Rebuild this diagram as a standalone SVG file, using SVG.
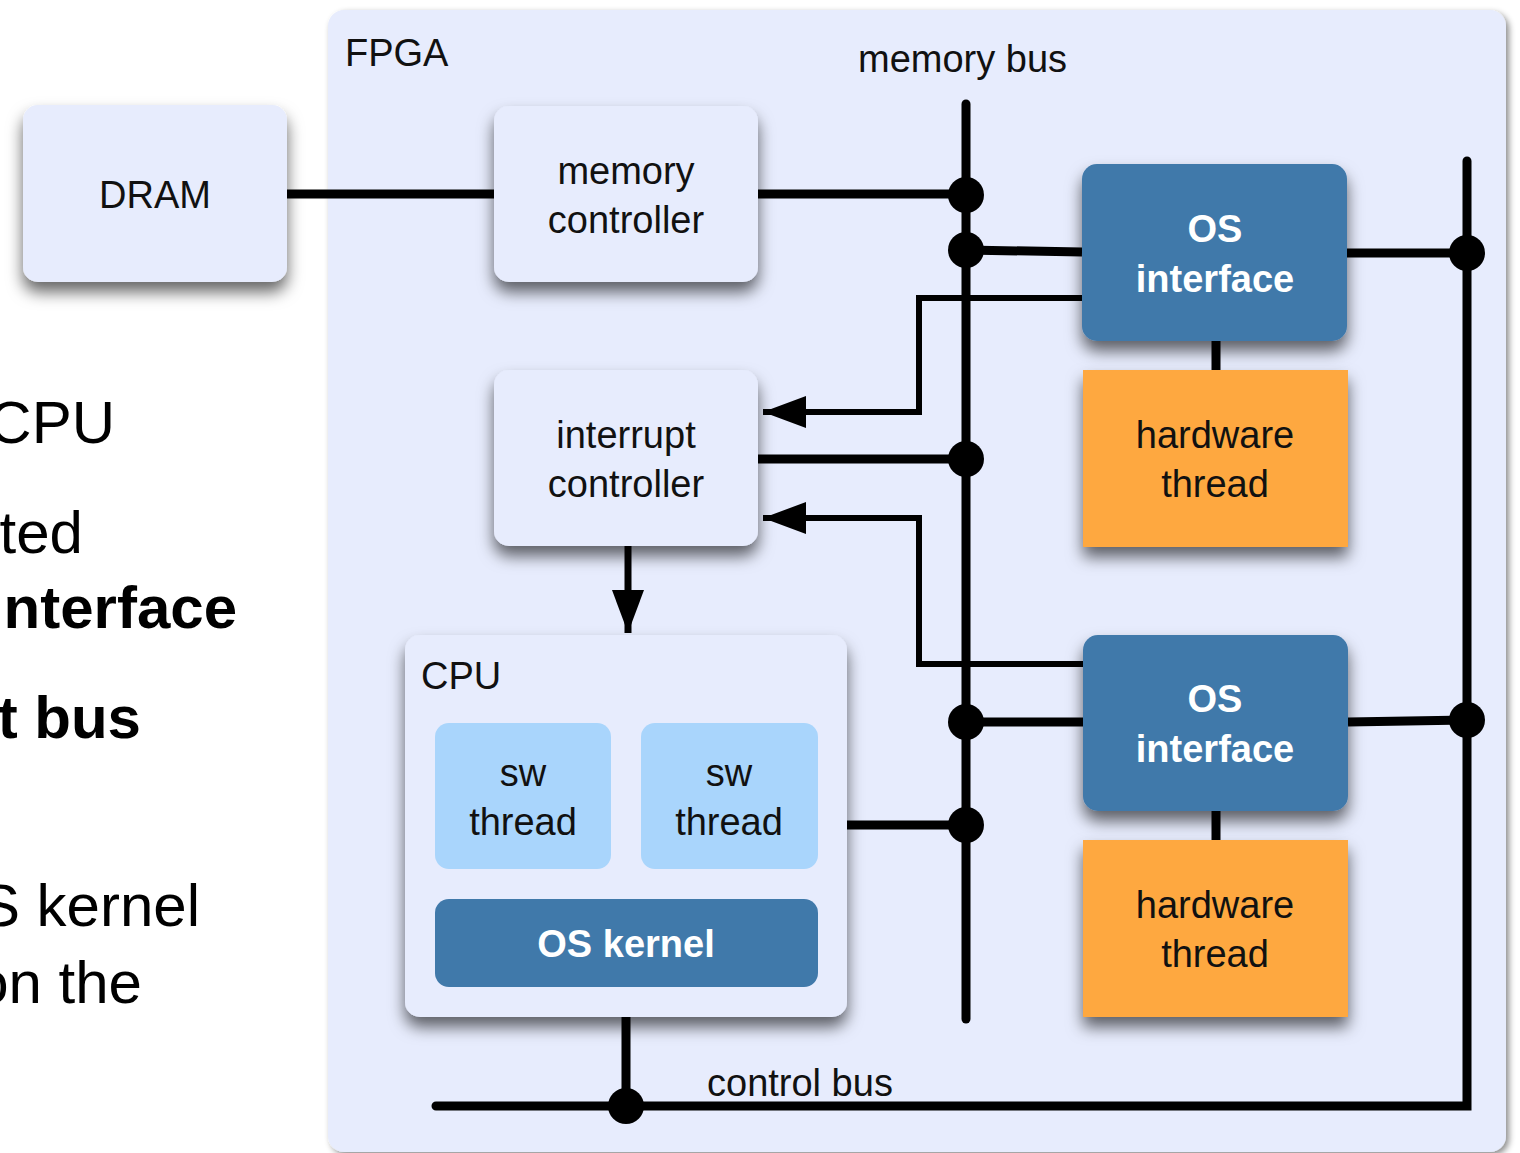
<svg xmlns="http://www.w3.org/2000/svg" width="1520" height="1153" viewBox="0 0 1520 1153">
<style>
  text { font-family: "Liberation Sans", Arial, sans-serif; font-size: 38px; fill: #111; }
  .c { text-anchor: middle; }
  .b { font-weight: bold; fill: #fff; }
  .side { font-size: 60px; text-anchor: end; fill: #000; }
  .sideb { font-size: 60px; text-anchor: end; font-weight: bold; fill: #000; }
  .light { fill: #E7ECFD; }
  .blue { fill: #4079AA; }
  .orange { fill: #FEA840; }
  .sw { fill: #A9D5FC; }
  .thick { stroke: #000; stroke-width: 9; fill: none; }
  .thin { stroke: #000; stroke-width: 6; fill: none; }
  .round { stroke-linecap: round; }
</style>
<defs>
  <filter id="sh" x="-20%" y="-20%" width="140%" height="160%">
    <feDropShadow dx="0" dy="10" stdDeviation="8" flood-color="#000" flood-opacity="0.6"/>
  </filter>
  <filter id="shbig" x="-5%" y="-5%" width="110%" height="110%">
    <feDropShadow dx="3" dy="3" stdDeviation="3" flood-color="#000" flood-opacity="0.45"/>
  </filter>
  <marker id="arr" markerUnits="userSpaceOnUse" markerWidth="44" markerHeight="34" refX="43" refY="16" orient="auto">
    <path d="M0,0 L43,16 L0,32 z" fill="#000"/>
  </marker>
</defs>
<rect width="1520" height="1153" fill="#fff"/>

<g id="side-text">
  <text class="side" x="115" y="443">CPU</text>
  <text class="side" x="83" y="553">ted</text>
  <text class="sideb" x="237" y="628">nterface</text>
  <text class="sideb" x="141" y="738">t bus</text>
  <text class="side" x="200" y="926">S kernel</text>
  <text class="side" x="142" y="1003">on the</text>
</g>

<g id="fpga">
  <rect class="light" x="328" y="10" width="1178" height="1142" rx="16" filter="url(#shbig)"/>
  <text x="345" y="66">FPGA</text>
  <text x="858" y="72">memory bus</text>
  <text x="707" y="1096">control bus</text>
</g>

<g id="dram">
  <rect class="light" x="23" y="105" width="264" height="177" rx="15" filter="url(#sh)"/>
  <text class="c" x="155" y="208">DRAM</text>
</g>

<g id="connectors">
  <line class="thick" x1="287" y1="194" x2="494" y2="194"/>
  <line class="thick" x1="758" y1="194" x2="966" y2="194"/>
  <line class="thick round" x1="966" y1="104" x2="966" y2="1019"/>
  <line class="thick" x1="966" y1="250" x2="1082" y2="252"/>
  <line class="thick" x1="758" y1="459" x2="966" y2="459"/>
  <line class="thick" x1="966" y1="722" x2="1083" y2="722"/>
  <line class="thick" x1="847" y1="825" x2="966" y2="825"/>
  <line class="thick" x1="1347" y1="253" x2="1467" y2="253"/>
  <line class="thick" x1="1348" y1="722" x2="1467" y2="720"/>
  <line class="thick" x1="1216" y1="341" x2="1216" y2="370"/>
  <line class="thick" x1="1216" y1="811" x2="1216" y2="840"/>
  <line class="thick round" x1="626" y1="1017" x2="626" y2="1106"/>
  <polyline class="thick round" points="436,1106 1467,1106 1467,161" stroke-linejoin="miter"/>
  <path class="thin" d="M1082,298 H919 V412 H763" marker-end="url(#arr)"/>
  <path class="thin" d="M1083,664 H919 V518 H763" marker-end="url(#arr)"/>
  <line x1="628" y1="546" x2="628" y2="633" stroke="#000" stroke-width="7" marker-end="url(#arr)"/>
  <g fill="#000">
    <circle cx="966" cy="195" r="18"/>
    <circle cx="966" cy="250" r="18"/>
    <circle cx="966" cy="459" r="18"/>
    <circle cx="966" cy="722" r="18"/>
    <circle cx="966" cy="825" r="18"/>
    <circle cx="1467" cy="253" r="18"/>
    <circle cx="1467" cy="720" r="18"/>
    <circle cx="626" cy="1106" r="18"/>
  </g>
</g>

<g id="memory-controller">
  <rect class="light" x="494" y="106" width="264" height="176" rx="15" filter="url(#sh)"/>
  <text class="c" x="626" y="184">memory</text>
  <text class="c" x="626" y="233">controller</text>
</g>

<g id="interrupt-controller">
  <rect class="light" x="494" y="370" width="264" height="176" rx="15" filter="url(#sh)"/>
  <text class="c" x="626" y="448">interrupt</text>
  <text class="c" x="626" y="497">controller</text>
</g>

<g id="cpu">
  <rect class="light" x="405" y="635" width="442" height="382" rx="15" filter="url(#sh)"/>
  <text x="421" y="689">CPU</text>
</g>

<g id="sw-thread-1">
  <rect class="sw" x="435" y="723" width="176" height="146" rx="14"/>
  <text class="c" x="523" y="786">sw</text>
  <text class="c" x="523" y="835">thread</text>
</g>

<g id="sw-thread-2">
  <rect class="sw" x="641" y="723" width="177" height="146" rx="14"/>
  <text class="c" x="729" y="786">sw</text>
  <text class="c" x="729" y="835">thread</text>
</g>

<g id="os-kernel">
  <rect class="blue" x="435" y="899" width="383" height="88" rx="14"/>
  <text class="c b" x="626" y="957">OS kernel</text>
</g>

<g id="os-interface-1">
  <rect class="blue" x="1082" y="164" width="265" height="177" rx="15" filter="url(#sh)"/>
  <text class="c b" x="1215" y="242">OS</text>
  <text class="c b" x="1215" y="292">interface</text>
</g>

<g id="hardware-thread-1">
  <rect class="orange" x="1083" y="370" width="265" height="177" filter="url(#sh)"/>
  <text class="c" x="1215" y="448">hardware</text>
  <text class="c" x="1215" y="497">thread</text>
</g>

<g id="os-interface-2">
  <rect class="blue" x="1083" y="635" width="265" height="176" rx="15" filter="url(#sh)"/>
  <text class="c b" x="1215" y="712">OS</text>
  <text class="c b" x="1215" y="762">interface</text>
</g>

<g id="hardware-thread-2">
  <rect class="orange" x="1083" y="840" width="265" height="177" filter="url(#sh)"/>
  <text class="c" x="1215" y="918">hardware</text>
  <text class="c" x="1215" y="967">thread</text>
</g>
</svg>
